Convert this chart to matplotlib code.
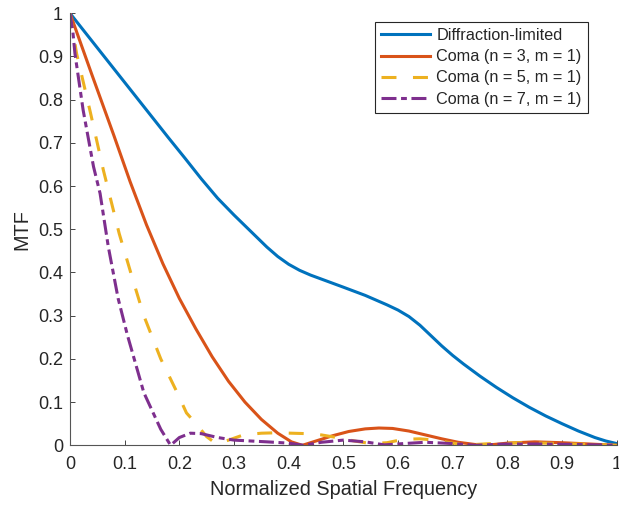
"""MTF of a diffraction-limited pupil vs. coma of increasing order (MATLAB look)."""
import matplotlib

matplotlib.use("Agg")
import matplotlib.pyplot as plt

plt.rcParams["font.family"] = ["Liberation Sans", "DejaVu Sans"]

# values
diff_x = [0, 0.06, 0.12, 0.18, 0.21, 0.24, 0.27, 0.30, 0.33, 0.36, 0.38, 0.40,
          0.42, 0.44, 0.47, 0.50, 0.54, 0.58, 0.60, 0.62, 0.64, 0.66, 0.68,
          0.70, 0.72, 0.75, 0.78, 0.81, 0.84, 0.87, 0.90, 0.93, 0.96, 0.98, 1.0]
diff_y = [1.0, 0.904, 0.808, 0.712, 0.665, 0.617, 0.572, 0.533, 0.496, 0.459,
          0.437, 0.419, 0.405, 0.394, 0.380, 0.366, 0.347, 0.325, 0.313, 0.298,
          0.278, 0.254, 0.230, 0.208, 0.188, 0.160, 0.134, 0.110, 0.088, 0.068,
          0.050, 0.033, 0.018, 0.010, 0.004]

coma3_x = [0, 0.04, 0.08, 0.11, 0.14, 0.17, 0.20, 0.23, 0.26, 0.29, 0.32, 0.35,
           0.38, 0.405, 0.425, 0.45, 0.48, 0.51, 0.54, 0.565, 0.59, 0.62, 0.65,
           0.68, 0.71, 0.74, 0.76, 0.80, 0.85, 0.90, 0.95, 1.0]
coma3_y = [1.0, 0.858, 0.718, 0.61, 0.51, 0.42, 0.34, 0.27, 0.205, 0.148, 0.1,
           0.06, 0.028, 0.008, 0.0, 0.01, 0.022, 0.032, 0.038, 0.04, 0.039,
           0.033, 0.024, 0.015, 0.007, 0.002, 0.0, 0.005, 0.008, 0.006, 0.003,
           0.0]

coma5_x = [0, 0.012, 0.037, 0.061, 0.09, 0.115, 0.135, 0.166, 0.196, 0.213,
           0.227, 0.25, 0.268, 0.29, 0.317, 0.35, 0.378, 0.433, 0.46, 0.488,
           0.52, 0.55, 0.58, 0.61, 0.64, 0.668, 0.70, 0.73, 0.77, 0.82, 0.87,
           0.92, 0.96, 1.0]
coma5_y = [1.0, 0.907, 0.772, 0.637, 0.49, 0.383, 0.30, 0.20, 0.122, 0.075,
           0.055, 0.02, 0.003, 0.012, 0.024, 0.028, 0.029, 0.027, 0.024, 0.018,
           0.01, 0.004, 0.006, 0.014, 0.015, 0.012, 0.005, 0.001, 0.004, 0.006,
           0.005, 0.003, 0.002, 0.0]

coma7_x = [0, 0.005, 0.009, 0.024, 0.043, 0.055, 0.07, 0.088, 0.105, 0.135,
           0.166, 0.184, 0.20, 0.22, 0.24, 0.27, 0.30, 0.33, 0.36, 0.40, 0.427,
           0.46, 0.50, 0.54, 0.575, 0.61, 0.65, 0.70, 0.74, 0.80, 0.86, 0.92,
           1.0]
coma7_y = [1.0, 0.96, 0.907, 0.776, 0.645, 0.583, 0.46, 0.34, 0.255, 0.122,
           0.037, 0.0, 0.018, 0.028, 0.027, 0.018, 0.012, 0.01, 0.008, 0.005,
           0.0, 0.007, 0.012, 0.008, 0.001, 0.004, 0.007, 0.004, 0.0, 0.003,
           0.003, 0.002, 0.0]

labels = ["Diffraction-limited", "Coma (n = 3, m = 1)",
          "Coma (n = 5, m = 1)", "Coma (n = 7, m = 1)"]
ticks = [0, 0.1, 0.2, 0.3, 0.4, 0.5, 0.6, 0.7, 0.8, 0.9, 1]

AX_COLOR = "#262626"

fig = plt.figure(figsize=(6.19, 5.07), dpi=100)
ax = fig.add_axes([0.1131, 0.1217, 0.8832, 0.8521])

lw = 2.2
ax.plot(diff_x, diff_y, color="#0072BD", lw=lw, label=labels[0])
ax.plot(coma3_x, coma3_y, color="#D95319", lw=lw, label=labels[1])
ax.plot(coma5_x, coma5_y, color="#EDB120", lw=lw, dashes=(4.9, 5.4),
        dash_capstyle="butt", label=labels[2])
ax.plot(coma7_x, coma7_y, color="#7E2F8E", lw=lw, dashes=(4.9, 1.5, 1.9, 1.5),
        dash_capstyle="butt", label=labels[3])

ax.set_xlim(0, 1)
ax.set_ylim(0, 1)
ax.set_xticks(ticks)
ax.set_yticks(ticks)
ax.set_xticklabels([f"{t:g}" for t in ticks])
ax.set_yticklabels([f"{t:g}" for t in ticks])
ax.tick_params(direction="in", length=3.5, width=0.6, colors=AX_COLOR,
               labelsize=13)
ax.tick_params(axis="x", pad=7.5)
ax.tick_params(axis="y", pad=5)
for side in ("top", "right"):
    ax.spines[side].set_visible(False)
for side in ("left", "bottom"):
    ax.spines[side].set_color("#555555")
    ax.spines[side].set_linewidth(0.8)

ax.set_xlabel("Normalized Spatial Frequency", fontsize=14.3, color=AX_COLOR, labelpad=5)
ax.set_ylabel("MTF", fontsize=14.3, color=AX_COLOR, labelpad=5)

leg = ax.legend(loc="upper right", bbox_to_anchor=(0.947, 0.98), borderaxespad=0,
                fontsize=11.7, frameon=True, fancybox=False, framealpha=1,
                edgecolor="#262626", handlelength=3.0, handletextpad=0.4,
                labelspacing=0.38, borderpad=0.38)
leg.get_frame().set_linewidth(0.8)
for t in leg.get_texts():
    t.set_color(AX_COLOR)

fig.savefig("out.png", dpi=100, facecolor="white")
